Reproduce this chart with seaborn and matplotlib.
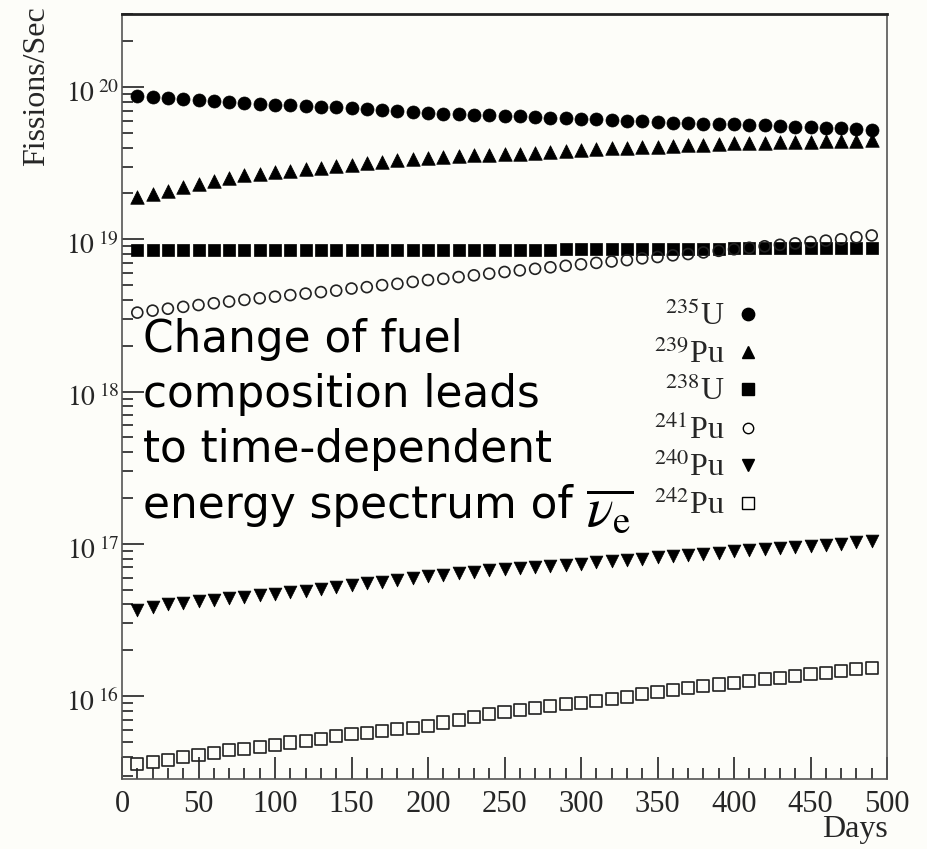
import numpy as np
import pandas as pd
import seaborn as sns
import matplotlib
matplotlib.use("Agg")
import matplotlib.pyplot as plt
import matplotlib.transforms as mtransforms
from matplotlib.lines import Line2D
from matplotlib.ticker import LogLocator, MultipleLocator, FixedLocator, NullFormatter

# ---- data: fission rates versus reactor operating days ----
days = [10, 20, 30, 40, 50, 60, 70, 80, 90, 100,
        110, 120, 130, 140, 150, 160, 170, 180, 190, 200,
        210, 220, 230, 240, 250, 260, 270, 280, 290, 300,
        310, 320, 330, 340, 350, 360, 370, 380, 390, 400,
        410, 420, 430, 440, 450, 460, 470, 480, 490]

u235 = [8.7, 8.6, 8.45, 8.3, 8.2, 8.1, 8.0, 7.85, 7.75, 7.65,
        7.6, 7.5, 7.45, 7.35, 7.25, 7.15, 7.05, 6.95, 6.85, 6.8,
        6.7, 6.65, 6.6, 6.55, 6.5, 6.45, 6.35, 6.3, 6.25, 6.2,
        6.15, 6.1, 6.0, 5.95, 5.9, 5.85, 5.8, 5.75, 5.7, 5.7,
        5.65, 5.6, 5.55, 5.5, 5.45, 5.4, 5.35, 5.3, 5.2]          # x1e19

pu239 = [1.89, 1.99, 2.09, 2.2, 2.31, 2.42, 2.53, 2.64, 2.70, 2.76,
         2.82, 2.88, 2.93, 3.01, 3.08, 3.16, 3.23, 3.30, 3.36, 3.41,
         3.47, 3.52, 3.56, 3.59, 3.62, 3.66, 3.70, 3.74, 3.80, 3.85,
         3.91, 3.95, 3.99, 4.03, 4.07, 4.11, 4.15, 4.19, 4.23, 4.28,
         4.30, 4.32, 4.34, 4.36, 4.38, 4.40, 4.42, 4.45, 4.48]    # x1e19

u238 = [8.5, 8.5, 8.5, 8.5, 8.5, 8.5, 8.5, 8.5, 8.5, 8.5,
        8.5, 8.5, 8.5, 8.5, 8.5, 8.5, 8.5, 8.5, 8.5, 8.5,
        8.5, 8.5, 8.5, 8.5, 8.5, 8.55, 8.55, 8.55, 8.6, 8.6,
        8.6, 8.6, 8.65, 8.65, 8.65, 8.7, 8.7, 8.7, 8.7, 8.75,
        8.75, 8.75, 8.75, 8.8, 8.8, 8.8, 8.8, 8.8, 8.8]          # x1e18

pu241 = [3.3, 3.4, 3.5, 3.6, 3.7, 3.8, 3.9, 4.0, 4.1, 4.2,
         4.3, 4.4, 4.5, 4.6, 4.75, 4.85, 5.0, 5.1, 5.25, 5.4,
         5.5, 5.65, 5.8, 5.95, 6.1, 6.25, 6.4, 6.55, 6.7, 6.85,
         7.0, 7.15, 7.3, 7.5, 7.65, 7.85, 8.0, 8.2, 8.4, 8.6,
         8.8, 9.0, 9.2, 9.4, 9.6, 9.8, 10.0, 10.3, 10.6]          # x1e18

pu240 = [3.7, 3.85, 4.0, 4.1, 4.2, 4.3, 4.4, 4.5, 4.6, 4.7,
         4.8, 4.9, 5.05, 5.2, 5.35, 5.5, 5.65, 5.8, 5.95, 6.1,
         6.25, 6.4, 6.55, 6.7, 6.85, 6.95, 7.05, 7.15, 7.3, 7.4,
         7.55, 7.7, 7.85, 8.0, 8.15, 8.3, 8.45, 8.6, 8.75, 8.9,
         9.05, 9.2, 9.35, 9.5, 9.65, 9.8, 10.0, 10.2, 10.5]       # x1e16

pu242 = [3.6, 3.7, 3.8, 3.95, 4.1, 4.25, 4.4, 4.5, 4.65, 4.8,
         4.95, 5.1, 5.25, 5.45, 5.6, 5.75, 5.9, 6.05, 6.2, 6.4,
         6.7, 7.0, 7.3, 7.6, 7.9, 8.15, 8.35, 8.55, 8.8, 9.0,
         9.3, 9.6, 9.9, 10.3, 10.7, 11.0, 11.3, 11.6, 11.9, 12.2,
         12.55, 12.9, 13.2, 13.5, 13.9, 14.2, 14.6, 15.0, 15.3]   # x1e15

isotopes = ["235U", "239Pu", "238U", "241Pu", "240Pu", "242Pu"]
labels = [r"$^{235}$U", r"$^{239}$Pu", r"$^{238}$U",
          r"$^{241}$Pu", r"$^{240}$Pu", r"$^{242}$Pu"]
ytick_labels = [r"$10^{\;16}$", r"$10^{\;17}$", r"$10^{\;18}$", r"$10^{\;19}$", r"$10^{\;20}$"]

series = {
    "235U": np.array(u235) * 1e19,
    "239Pu": np.array(pu239) * 1e19,
    "238U": np.array(u238) * 1e18,
    "241Pu": np.array(pu241) * 1e18,
    "240Pu": np.array(pu240) * 1e16,
    "242Pu": np.array(pu242) * 1e15,
}

df = pd.concat(
    [pd.DataFrame({"Days": days, "rate": v, "isotope": k}) for k, v in series.items()],
    ignore_index=True,
)

# marker, size, filled
styles = {
    "235U": ("o", 88, True),
    "239Pu": ("^", 95, True),
    "238U": ("s", 80, True),
    "241Pu": ("o", 62, False),
    "240Pu": ("v", 85, True),
    "242Pu": ("s", 75, False),
}

# ---- style ----
sns.set_theme(style="ticks")
plt.rcParams["font.family"] = ["Liberation Serif", "DejaVu Serif"]
plt.rcParams["mathtext.fontset"] = "stix"
bg = "#fdfdf9"

fig = plt.figure(figsize=(9.28, 8.49), dpi=100, facecolor=bg)
ax = fig.add_axes([122 / 928, 1 - 779 / 849, (887 - 122) / 928, (779 - 14) / 849])
ax.set_facecolor(bg)

for iso in isotopes:
    m, s, filled = styles[iso]
    sub = df[df["isotope"] == iso]
    if filled:
        sns.scatterplot(data=sub, x="Days", y="rate", marker=m, s=s, color="black",
                        edgecolor="black", linewidth=0.5, ax=ax, legend=False, zorder=3)
    else:
        sns.scatterplot(data=sub, x="Days", y="rate", marker=m, s=s, facecolor="none",
                        edgecolor="#222222", linewidth=1.2, ax=ax, legend=False, zorder=3)

ax.set_yscale("log")
ax.set_xlim(0, 500)
ax.set_ylim(2.85e15, 3.02e20)

# axis ticks
ax.xaxis.set_major_locator(MultipleLocator(50))
ax.xaxis.set_minor_locator(MultipleLocator(10))
ax.yaxis.set_major_locator(FixedLocator([1e16, 1e17, 1e18, 1e19, 1e20]))
ax.yaxis.set_minor_locator(LogLocator(base=10, subs=np.arange(2, 10), numticks=20))
ax.yaxis.set_minor_formatter(NullFormatter())
ax.set_yticklabels(ytick_labels)
ax.tick_params(axis="both", which="major", direction="in", length=16, width=1.3,
               color="#333333", top=False, right=False)
ax.tick_params(axis="both", which="minor", direction="in", length=8, width=1.3,
               color="#333333", top=False, right=False)
ax.tick_params(axis="x", which="major", labelsize=22, pad=8)
ax.tick_params(axis="y", which="major", labelsize=20, pad=2)
# nudge the decade labels slightly below their ticks
shift = mtransforms.ScaledTranslation(0, -4 / 100, fig.dpi_scale_trans)
for t in ax.get_yticklabels():
    t.set_transform(t.get_transform() + shift)

for side in ["left", "bottom", "right"]:
    ax.spines[side].set_color("#555555")
    ax.spines[side].set_linewidth(1.2)
ax.spines["top"].set_color("#222222")
ax.spines["top"].set_linewidth(2.0)

ax.set_xlabel("")
ax.set_ylabel("")
fig.text(888 / 928, 1 - 830 / 849, "Days", ha="right", va="center", fontsize=23)
fig.text(37 / 928, 1 - 6 / 849, "Fissions/Sec", rotation=90, ha="center", va="top", fontsize=23)

# legend: label then marker
handles = []
for iso in isotopes:
    m, s, filled = styles[iso]
    handles.append(Line2D([], [], linestyle="none", marker=m,
                          markersize=np.sqrt(s) * 0.95,
                          markerfacecolor="black" if filled else "none",
                          markeredgecolor="black", markeredgewidth=1.0))
leg = ax.legend(handles, labels, loc="center", bbox_to_anchor=(709 / 928, 1 - 411 / 849),
                bbox_transform=fig.transFigure, frameon=False, markerfirst=False,
                fontsize=23, handletextpad=0.2, handlelength=1.0, labelspacing=0.22,
                borderpad=0.2)

# annotation text
fig.text(143 / 928, 1 - 318 / 849,
         "Change of fuel\ncomposition leads\nto time-dependent\nenergy spectrum of",
         ha="left", va="top", fontsize=31.5, family=["DejaVu Sans"], linespacing=1.36,
         color="black")
fig.text(586 / 928, 1 - 526 / 849, r"$\overline{\nu_{\rm e}}$", ha="left", va="baseline",
         fontsize=40, color="black")

fig.savefig("out.png", dpi=100, facecolor=bg)
